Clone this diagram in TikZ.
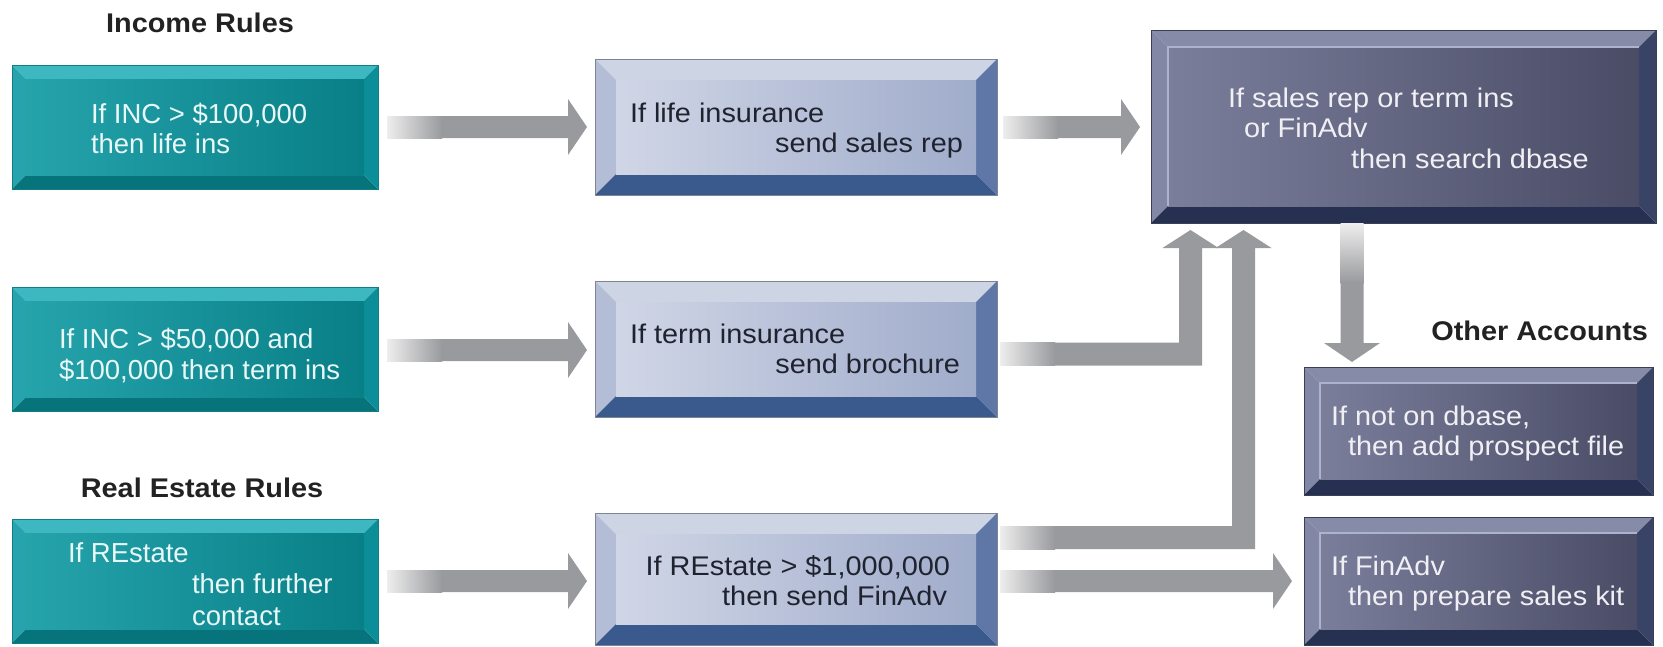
\documentclass[tikz,border=0pt]{standalone}
\usepackage{fontspec}
\setmainfont{Liberation Sans}[FakeStretch=1.07]
\newfontfamily\plainsans{Liberation Sans}
\usetikzlibrary{calc}
\definecolor{agray}{HTML}{999A9D}
\definecolor{fadeL}{HTML}{EEEEEE}
\definecolor{tealTop}{HTML}{3DB7C0}
\definecolor{tealLeft}{HTML}{26A3AC}
\definecolor{tealBot}{HTML}{07737A}
\definecolor{tealRight}{HTML}{0C8E98}
\definecolor{tealFaceL}{HTML}{25A3AB}
\definecolor{tealFaceR}{HTML}{097F87}
\definecolor{tealLine}{HTML}{0E7F86}
\definecolor{tealText}{HTML}{E8F7F7}
\definecolor{midTop}{HTML}{CDD4E4}
\definecolor{midLeft}{HTML}{B3BDD6}
\definecolor{midBot}{HTML}{3A5A8E}
\definecolor{midRight}{HTML}{5F77A7}
\definecolor{midFaceL}{HTML}{D0D6E6}
\definecolor{midFaceR}{HTML}{A0ACCB}
\definecolor{midLine}{HTML}{7E8494}
\definecolor{midText}{HTML}{1F2330}
\definecolor{dkTop}{HTML}{868BA8}
\definecolor{dkLeft}{HTML}{8287A5}
\definecolor{dkBot}{HTML}{263050}
\definecolor{dkRight}{HTML}{394366}
\definecolor{dkFaceL}{HTML}{7B7E9B}
\definecolor{dkFaceR}{HTML}{4A4C66}
\definecolor{dkInner}{HTML}{AEB3CC}
\definecolor{dkLine}{HTML}{3A3F58}
\definecolor{dkText}{HTML}{F0F0F4}
\definecolor{titleText}{HTML}{222222}

% #1 node, #2 bevel width, #3 top, #4 left, #5 bottom, #6 right, #7 face options, #8 outline colour, #9 highlight options
\newcommand\bevelbox[9]{%
  \path (#1.north west) coordinate (bA) (#1.north east) coordinate (bB)
        (#1.south east) coordinate (bC) (#1.south west) coordinate (bD)
        ($(#1.north west)+(#2,#2)$) coordinate (iA) ($(#1.north east)+(-#2,#2)$) coordinate (iB)
        ($(#1.south east)+(-#2,-#2)$) coordinate (iC) ($(#1.south west)+(#2,-#2)$) coordinate (iD);
  \fill[#3] (bA)--(bB)--(iB)--(iA)--cycle;
  \fill[#4] (bA)--(iA)--(iD)--(bD)--cycle;
  \fill[#5] (bD)--(iD)--(iC)--(bC)--cycle;
  \fill[#6] (bB)--(bC)--(iC)--(iB)--cycle;
  \path[shade,#7] (iA) rectangle (iC);
  \draw[#9] (iD) -- (iA) -- (iB);
  \draw[#8, line width=1pt] (bA) rectangle (bC);
}
% horizontal block arrow: #1 start (centre of tail), #2 tip
\newcommand\harrow[2]{%
  \shade[left color=fadeL, right color=agray] let \p1=#1 in (\x1,\y1-11pt) rectangle (\x1+55pt,\y1+11pt);
  \fill[agray] let \p1=#1, \p2=#2 in (\x1+54.5pt,\y1-11pt) -- (\x2-19pt,\y1-11pt) -- (\x2-19pt,\y1-28pt)
     -- (\x2,\y1) -- (\x2-19pt,\y1+28pt) -- (\x2-19pt,\y1+11pt) -- (\x1+54.5pt,\y1+11pt) -- cycle;
}
% elbow arrow: right, then up. #1 start, #2 tip
\newcommand\uparr[2]{%
  \shade[left color=fadeL, right color=agray] let \p1=#1 in (\x1,\y1-11.5pt) rectangle (\x1+55pt,\y1+11.5pt);
  \fill[agray] let \p1=#1, \p2=#2 in (\x1+54.5pt,\y1+11.5pt) -- (\x2-11.5pt,\y1+11.5pt) -- (\x2-11.5pt,\y2-18pt)
     -- (\x2-28pt,\y2-18pt) -- (\x2,\y2) -- (\x2+28pt,\y2-18pt) -- (\x2+11.5pt,\y2-18pt)
     -- (\x2+11.5pt,\y1-11.5pt) -- (\x1+54.5pt,\y1-11.5pt) -- cycle;
}
% downward arrow: #1 start, #2 tip
\newcommand\downarr[2]{%
  \shade[top color=fadeL, bottom color=agray] let \p1=#1 in (\x1-11.5pt,\y1) rectangle (\x1+11.5pt,\y1-60pt);
  \fill[agray] let \p1=#1, \p2=#2 in (\x1-11.5pt,\y1-59.5pt) -- (\x1-11.5pt,\y2+19pt) -- (\x1-28pt,\y2+19pt)
     -- (\x1,\y2) -- (\x1+28pt,\y2+19pt) -- (\x1+11.5pt,\y2+19pt) -- (\x1+11.5pt,\y1-59.5pt) -- cycle;
}

\begin{document}
\begin{tikzpicture}[x=1pt,y=-1pt,
  boxn/.style={inner sep=0pt, outer sep=0pt, anchor=north west},
  txt/.style={inner sep=0pt, outer sep=0pt, font=\fontsize{27}{30}\selectfont},
  tealtxt/.style={txt, text=tealText, anchor=base west, font=\plainsans\fontsize{27.5}{30}\selectfont},
  midtxt/.style={txt, text=midText},
  dktxt/.style={txt, text=dkText, anchor=base west},
  title/.style={txt, text=titleText, font=\fontsize{27}{30}\selectfont\bfseries}]
\useasboundingbox[fill=white] (0,0) rectangle (1663,646);

% box frames
\node[boxn, minimum width=366pt, minimum height=124pt] (t1) at (12,65) {};
\node[boxn, minimum width=366pt, minimum height=124pt] (t2) at (12,287) {};
\node[boxn, minimum width=366pt, minimum height=124pt] (t3) at (12,519) {};
\node[boxn, minimum width=402pt, minimum height=136pt] (m1) at (595,59) {};
\node[boxn, minimum width=402pt, minimum height=136pt] (m2) at (595,281) {};
\node[boxn, minimum width=402pt, minimum height=132pt] (m3) at (595,513) {};
\node[boxn, minimum width=505pt, minimum height=193pt] (tr) at (1151,30) {};
\node[boxn, minimum width=349pt, minimum height=128pt] (oa) at (1304,367) {};
\node[boxn, minimum width=349pt, minimum height=128pt] (ob) at (1304,517) {};

\foreach \n in {t1,t2,t3}{\bevelbox{\n}{14}{tealTop}{tealLeft}{tealBot}{tealRight}{left color=tealFaceL, right color=tealFaceR}{tealLine}{draw=none}}
\foreach \n in {m1,m2,m3}{\bevelbox{\n}{21}{midTop}{midLeft}{midBot}{midRight}{left color=midFaceL, right color=midFaceR}{midLine}{draw=none}}
\bevelbox{tr}{17}{dkTop}{dkLeft}{dkBot}{dkRight}{left color=dkFaceL, right color=dkFaceR}{dkLine}{draw=dkInner, line width=1.2pt}
\foreach \n in {oa,ob}{\bevelbox{\n}{16}{dkTop}{dkLeft}{dkBot}{dkRight}{left color=dkFaceL, right color=dkFaceR}{dkLine}{draw=dkInner, line width=1.2pt}}

% titles
\node[title, anchor=base] (h1) at (200,32) {Income Rules};
\node[title, anchor=base] (h2) at (202,497) {Real Estate Rules};
\node[title, anchor=base east] (h3) at (1648,340) {Other Accounts};

% texts
\node[tealtxt] (t1a) at (91,123) {If INC > \$100,000};
\node[tealtxt] (t1b) at (91,153) {then life ins};
\node[tealtxt] (t2a) at (59,348) {If INC > \$50,000 and};
\node[tealtxt] (t2b) at (59,379) {\$100,000 then term ins};
\node[tealtxt] (t3a) at (68,562) {If REstate};
\node[tealtxt] (t3b) at (192,593) {then further};
\node[tealtxt] (t3c) at (192,625) {contact};

\node[midtxt, anchor=base west] (m1a) at (630,122) {If life insurance};
\node[midtxt, anchor=base east] (m1b) at (963,152) {send sales rep};
\node[midtxt, anchor=base west] (m2a) at (630,343) {If term insurance};
\node[midtxt, anchor=base east] (m2b) at (960,373) {send brochure};
\node[midtxt, anchor=base east] (m3a) at (950,575) {If REstate > \$1,000,000};
\node[midtxt, anchor=base east] (m3b) at (947,605) {then send FinAdv};

\node[dktxt] (tra) at (1228,107) {If sales rep or term ins};
\node[dktxt] (trb) at (1244,137) {or FinAdv};
\node[dktxt] (trc) at (1351,168) {then search dbase};
\node[dktxt] (oaa) at (1331,425) {If not on dbase,};
\node[dktxt] (oab) at (1348,455) {then add prospect file};
\node[dktxt] (oba) at (1331,575) {If FinAdv};
\node[dktxt] (obb) at (1348,605) {then prepare sales kit};

% arrows
\harrow{($(t1.east)+(9,0)$)}{($(m1.west)+(-8,0)$)}
\harrow{($(t2.east)+(9,1)$)}{($(m2.west)+(-8,0)$)}
\harrow{($(t3.east)+(9,0)$)}{($(m3.west)+(-8,0)$)}
\harrow{($(m1.east)+(6,0)$)}{($(tr.west)+(-11,0)$)}
\uparr{($(m2.east)+(3,5)$)}{($(tr.south west)+(39.5,7)$)}
\uparr{($(m3.east)+(3,-41.5)$)}{($(tr.south west)+(92.5,7)$)}
\harrow{($(m3.east)+(3,2)$)}{($(ob.west)+(-12,0)$)}
\downarr{($(tr.south west)+(201,0)$)}{($(oa.north west)+(48,-5)$)}
\end{tikzpicture}
\end{document}
